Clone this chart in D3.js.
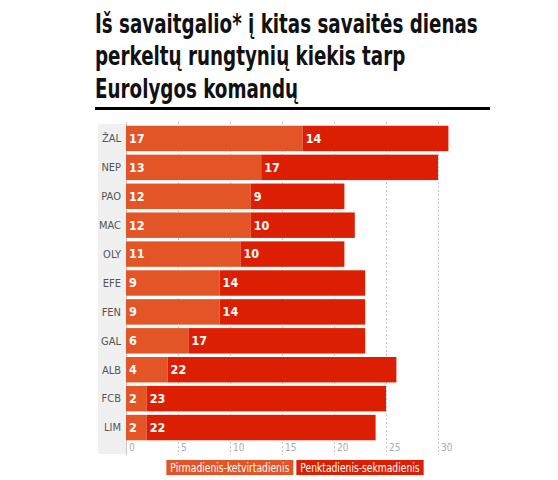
<!DOCTYPE html>
<html>
<head>
<meta charset="utf-8">
<script src="https://cdn.jsdelivr.net/npm/d3@7"></script>
<style>
  body { margin: 0; background: #fff; }
  svg { display: block; }
</style>
</head>
<body>
<script>
var width = 558;
var height = 480;

// data
var teams = ['ŽAL', 'NEP', 'PAO', 'MAC', 'OLY', 'EFE', 'FEN', 'GAL', 'ALB', 'FCB', 'LIM'];
var weekdays = [17, 13, 12, 12, 11, 9, 9, 6, 4, 2, 2];   // Pirmadienis-ketvirtadienis
var weekend = [14, 17, 9, 10, 10, 14, 14, 17, 22, 23, 22]; // Penktadienis-sekmadienis
var seriesNames = ['Pirmadienis-ketvirtadienis', 'Penktadienis-sekmadienis'];
var colors = ['#e35527', '#dc1f02'];
var titleLines = ['Iš savaitgalio* į kitas savaitės dienas', 'perkeltų rungtynių kiekis tarp', 'Eurolygos komandų'];
var ticks = [0, 5, 10, 15, 20, 25, 30];

var svg = d3.select('body').append('svg')
    .attr('width', width)
    .attr('height', height)

var titleFont = "'DejaVu Sans Condensed', 'DejaVu Sans', sans-serif"
var narrowFont = "'DejaVu Sans Condensed', 'DejaVu Sans', sans-serif"

// title, squeezed so the first line spans the same width as the reference
var title = svg.append('g')
var tLines = title.selectAll('text')
    .data(titleLines).enter()
    .append('text')
        .attr('x', 0)
        .attr('y', 0)
        .attr('font-family', titleFont)
        .attr('font-weight', 'bold')
        .attr('font-size', 26.5)
        .attr('fill', '#111')
        .text(d => d)
var k = 383 / tLines.node().getComputedTextLength()
tLines.attr('transform', (d, i) => 'translate(95,' + (32.5 + i * 32.5) + ') scale(' + k + ',1)')

svg.append('rect')
    .attr('x', 95).attr('y', 107)
    .attr('width', 395).attr('height', 3)
    .attr('fill', '#000')

var x = d3.scaleLinear().domain([0, 30]).range([126, 438])
var y = d3.scaleBand().domain(teams).range([124, 442]).paddingInner(0.12).paddingOuter(0.06)

// label column
svg.append('rect')
    .attr('x', 98).attr('y', 124)
    .attr('width', x(0) - 98).attr('height', 330)
    .attr('fill', '#f0f0f0')

// grid
svg.append('g').selectAll('line')
    .data(ticks).enter()
    .append('line')
        .attr('x1', d => x(d) + 0.5).attr('x2', d => x(d) + 0.5)
        .attr('y1', 122).attr('y2', 455)
        .attr('stroke', '#c8c8c8')
        .attr('stroke-width', 1)
        .attr('stroke-dasharray', d => d == 0 ? null : '2,2')

svg.append('g').selectAll('text')
    .data(ticks).enter()
    .append('text')
        .attr('x', d => x(d) + 3)
        .attr('y', 451)
        .attr('font-family', narrowFont)
        .attr('font-size', 10)
        .attr('fill', '#aaa')
        .text(d => d)

var rows = teams.map((t, i) => ({team: t, a: weekdays[i], b: weekend[i]}))

var row = svg.append('g').selectAll('g')
    .data(rows).enter()
    .append('g')
        .attr('transform', d => 'translate(0,' + y(d.team) + ')')

row.append('rect')
    .attr('x', x(0))
    .attr('width', d => x(d.a) - x(0))
    .attr('height', y.bandwidth())
    .attr('fill', colors[0])

row.append('rect')
    .attr('x', d => x(d.a))
    .attr('width', d => x(d.a + d.b) - x(d.a))
    .attr('height', y.bandwidth())
    .attr('fill', colors[1])

row.append('text')
    .attr('x', 121)
    .attr('y', y.bandwidth() / 2)
    .attr('dy', '0.35em')
    .attr('text-anchor', 'end')
    .attr('font-family', narrowFont)
    .attr('font-size', 11)
    .attr('fill', '#555')
    .text(d => d.team)

row.append('text')
    .attr('x', x(0) + 3)
    .attr('y', y.bandwidth() / 2)
    .attr('dy', '0.35em')
    .attr('font-family', narrowFont)
    .attr('font-weight', 'bold')
    .attr('font-size', 12.5)
    .attr('fill', '#fff')
    .text(d => d.a)

row.append('text')
    .attr('x', d => x(d.a) + 3)
    .attr('y', y.bandwidth() / 2)
    .attr('dy', '0.35em')
    .attr('font-family', narrowFont)
    .attr('font-weight', 'bold')
    .attr('font-size', 12.5)
    .attr('fill', '#fff')
    .text(d => d.b)

// legend, text narrowed to the reference box widths
var legend = svg.append('g')
var items = legend.selectAll('g')
    .data(seriesNames).enter()
    .append('g')
items.append('rect')
    .attr('y', 460).attr('height', 15)
    .attr('fill', (d, i) => colors[i])
var labels = items.append('text')
    .attr('font-family', narrowFont)
    .attr('font-size', 12.5)
    .attr('fill', '#fff')
    .text(d => d)
var lk = 119 / labels.node().getComputedTextLength()
var widths = []
labels.each(function(){ widths.push(this.getComputedTextLength() * lk + 8) })
var total = d3.sum(widths) + 3
var lx = 295 - total / 2
items.each(function(d, i){
    var g = d3.select(this)
    g.select('rect').attr('x', lx).attr('width', widths[i])
    g.select('text').attr('transform', 'translate(' + (lx + 4) + ',472) scale(' + lk + ',1)')
    lx += widths[i] + 3
})
</script>
</body>
</html>
